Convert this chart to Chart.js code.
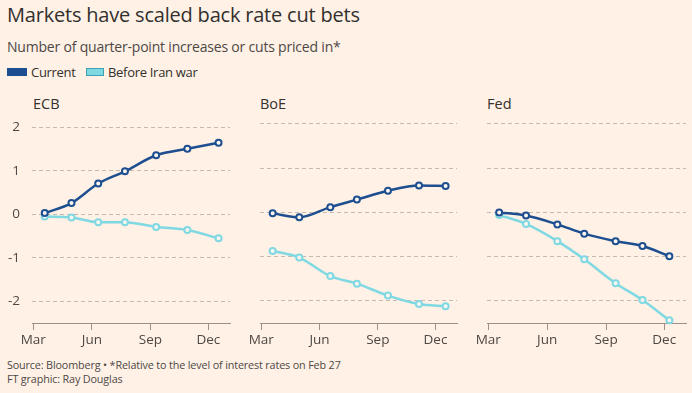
<!DOCTYPE html>
<html><head><meta charset="utf-8">
<script src="https://cdn.jsdelivr.net/npm/chart.js@4.4.1/dist/chart.umd.min.js"></script>
<style>
html,body{margin:0;padding:0;background:#fff1e5;width:692px;height:393px;overflow:hidden;font-family:"Open Sans",sans-serif;color:#33302e}
.t{position:absolute;white-space:nowrap}
canvas{position:absolute}
</style></head><body>
<div class="t" id="title" style="left:7px;top:1px;font-size:20px;letter-spacing:-0.2px">Markets have scaled back rate cut bets</div>
<div class="t" style="left:7px;top:37px;font-size:14px;letter-spacing:-0.2px;color:#4d4845">Number of quarter-point increases or cuts priced in*</div>
<div style="position:absolute;left:7px;top:68px;width:20px;height:8px;background:#1d4e8f"></div>
<div class="t" style="left:31px;top:63px;font-size:13px;letter-spacing:-0.3px">Current</div>
<div style="position:absolute;left:86px;top:68px;width:16px;height:6px;background:#7fd8e2;border:1px solid #3aa3b6"></div>
<div class="t" style="left:108px;top:63px;font-size:13px;letter-spacing:-0.3px">Before Iran war</div>
<div class="t" style="left:33px;top:94px;font-size:14.5px;">ECB</div>
<div class="t" style="left:260px;top:94px;font-size:14.5px;">BoE</div>
<div class="t" style="left:487px;top:94px;font-size:14.5px;">Fed</div>
<div class="t" style="left:7px;top:357px;font-size:10.8px;letter-spacing:-0.15px;color:#4d4845">Source: Bloomberg • *Relative to the level of interest rates on Feb 27</div>
<div class="t" style="left:7px;top:371px;font-size:10.8px;letter-spacing:-0.15px;color:#4d4845">FT graphic: Ray Douglas</div>
<canvas id="c1"></canvas><canvas id="c2"></canvas><canvas id="c3"></canvas>
<script>
// ---- data ----
const tickDates = ['2026-03-01','2026-06-01','2026-09-01','2026-12-01'];
const tickLabels = ['Mar','Jun','Sep','Dec'];
const yTicks = [-2,-1,0,1,2];
const seriesNames = ['Current','Before Iran war'];

const ecbDates = ['2026-03-19','2026-04-30','2026-06-11','2026-07-23','2026-09-10','2026-10-29','2026-12-17'];
const ecbCurrent = [0.03,0.26,0.71,0.99,1.36,1.51,1.65];
const ecbBefore = [-0.05,-0.07,-0.18,-0.18,-0.29,-0.36,-0.55];

const boeDates = ['2026-03-19','2026-04-30','2026-06-18','2026-07-30','2026-09-17','2026-11-05','2026-12-17'];
const boeCurrent = [-0.02,-0.11,0.12,0.29,0.49,0.61,0.60];
const boeBefore = [-0.87,-1.02,-1.44,-1.61,-1.88,-2.07,-2.12];

const fedDates = ['2026-03-18','2026-04-29','2026-06-17','2026-07-29','2026-09-16','2026-10-28','2026-12-09'];
const fedCurrent = [0.00,-0.07,-0.27,-0.48,-0.65,-0.76,-0.99];
const fedBefore = [-0.06,-0.26,-0.65,-1.06,-1.60,-1.98,-2.44];

// ---- helpers ----
const base = Date.UTC(2026,2,1);
const dayOf = s => { const [y,m,d] = s.split('-').map(Number); return Math.round((Date.UTC(y,m-1,d)-base)/86400000); };
const tickDays = tickDates.map(dayOf);
const pts = (dates, vals) => dates.map((d,i)=>({x:dayOf(d), y:vals[i]}));

const DARK = '#1d4e8f', LIGHT = '#7fd8e2';
const TEXT = '#4d4845';

function makeChart(id, left, width, yWidth, showY, dates, cur, bef){
  const cv = document.getElementById(id);
  cv.style.left = left+'px'; cv.style.top = '90px';
  cv.width = width; cv.height = 270;
  cv.style.width = width+'px'; cv.style.height = '270px';
  const ds = (label, data, color) => ({
    label, data, borderColor: color, backgroundColor: color,
    borderWidth: 2.5, pointRadius: 3, pointBorderWidth: 2,
    pointBackgroundColor: '#fdf6f0', pointBorderColor: color,
    cubicInterpolationMode: 'monotone', clip: false
  });
  new Chart(cv, {
    type: 'line',
    data: { datasets: [ ds(seriesNames[0], pts(dates,cur), DARK), ds(seriesNames[1], pts(dates,bef), LIGHT) ] },
    options: {
      responsive: false, animation: false, devicePixelRatio: 1,
      layout: { padding: { top: 16.3, right: 0, left: 0, bottom: 0 } },
      plugins: { legend: { display: false }, tooltip: { enabled: false } },
      scales: {
        x: {
          type: 'linear', min: -2, max: 309,
          afterBuildTicks: s => { s.ticks = tickDays.map(v=>({value:v})); },
          afterFit: s => { s.height = 37; },
          ticks: { callback: v => tickLabels[tickDays.indexOf(v)] ?? '', color: TEXT,
                   font: { family: 'Open Sans', size: 13.5 }, padding: 2, maxRotation: 0, autoSkip: false },
          grid: { drawOnChartArea: false, drawTicks: true, tickLength: 7, color: '#9b918a', lineWidth: 1 },
          border: { display: true, color: '#9b918a', width: 1 }
        },
        y: {
          min: -2.5, max: 2.4,
          afterBuildTicks: s => { s.ticks = yTicks.map(v=>({value:v})); },
          afterFit: s => { s.width = yWidth; },
          ticks: { display: showY, color: TEXT, font: { family: 'Open Sans', size: 13.5 }, padding: 12,
                   callback: v => String(v) },
          grid: { drawTicks: false, color: '#c4bab1', lineWidth: 1 },
          border: { display: false, dash: [4,3] }
        }
      }
    }
  });
}
makeChart('c1', 0, 236, 32, true, ecbDates, ecbCurrent, ecbBefore);
makeChart('c2', 240, 223, 20, false, boeDates, boeCurrent, boeBefore);
makeChart('c3', 470, 222, 17, false, fedDates, fedCurrent, fedBefore);
</script>
</body></html>
